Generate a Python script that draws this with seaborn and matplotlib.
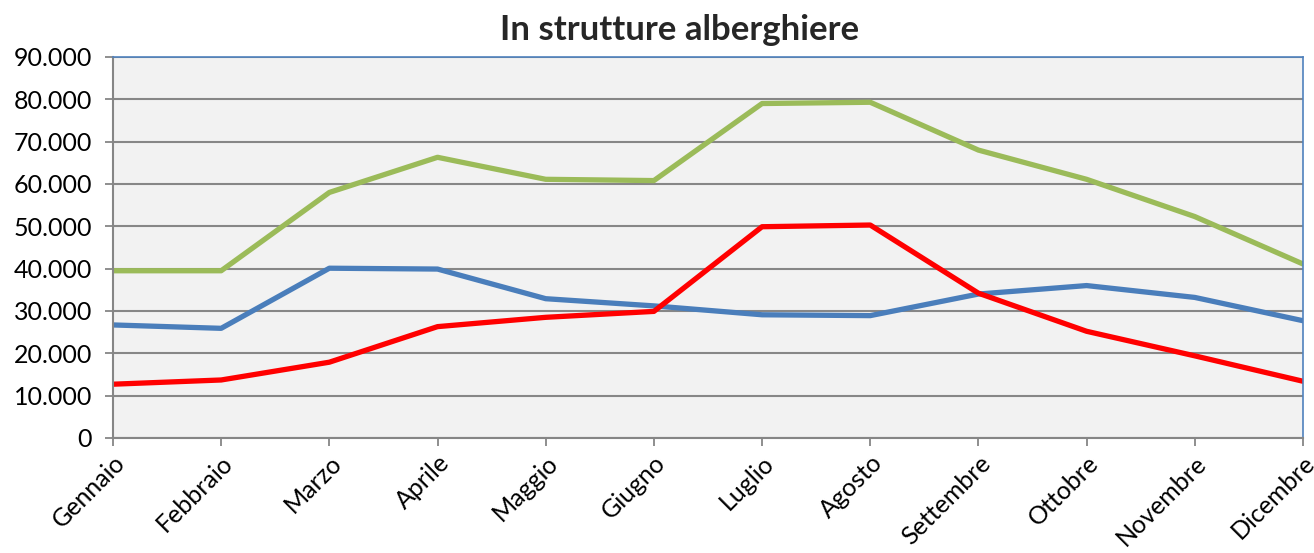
import matplotlib.pyplot as plt
import matplotlib.ticker as mticker
import pandas as pd
import seaborn as sns

months = ["Gennaio", "Febbraio", "Marzo", "Aprile", "Maggio", "Giugno",
          "Luglio", "Agosto", "Settembre", "Ottobre", "Novembre", "Dicembre"]

# three unnamed series
serie_blu = [26700, 25900, 40100, 39900, 32900, 31200, 29100, 28900, 34000, 36000, 33200, 27700]
serie_verde = [39500, 39500, 58000, 66300, 61100, 60800, 79000, 79300, 68000, 61100, 52300, 41100]
serie_rossa = [12700, 13700, 17900, 26300, 28500, 29900, 49900, 50300, 34200, 25200, 19400, 13400]

df = pd.DataFrame({
    "mese": months * 3,
    "valore": serie_blu + serie_verde + serie_rossa,
    "serie": ["blu"] * 12 + ["verde"] * 12 + ["rossa"] * 12,
})

sns.set_style("white")
plt.rcParams['font.family'] = ['Lato', 'DejaVu Sans']

fig = plt.figure(figsize=(13.14, 5.53), dpi=100)
ax = fig.add_axes([0.086, 0.208, 0.9056, 0.689])
ax.set_facecolor("#f2f2f2")

sns.lineplot(data=df, x="mese", y="valore", hue="serie", sort=False,
             palette={"blu": "#4a7ebb", "verde": "#9bbb59", "rossa": "#ff0000"},
             linewidth=3.8, legend=False, ax=ax)

ax.set_xlim(0, 11)
ax.set_ylim(0, 90000)
ax.yaxis.set_major_locator(mticker.MultipleLocator(10000))
ax.yaxis.set_major_formatter(mticker.FuncFormatter(lambda v, p: f"{int(v):,}".replace(",", ".")))
ax.grid(axis="y", color="#878787", linewidth=1.5)
ax.set_axisbelow(True)

for s in ["left", "bottom"]:
    ax.spines[s].set_color("#868686")
    ax.spines[s].set_linewidth(1.5)
for s in ["top", "right"]:
    ax.spines[s].set_color("#4f81bd")
    ax.spines[s].set_linewidth(1.2)

ax.tick_params(axis="both", direction="out", length=6, width=1.3, color="#868686",
               labelsize=18, labelcolor="black", left=True, bottom=True)
ax.tick_params(axis="y", pad=9)
plt.setp(ax.get_xticklabels(), rotation=45, ha="right", rotation_mode="anchor")
ax.set_xlabel("")
ax.set_ylabel("")
fig.text(0.517, 0.945, "In strutture alberghiere", fontsize=25, fontweight="bold",
         ha="center", va="center")

plt.savefig("out.png", dpi=100)
